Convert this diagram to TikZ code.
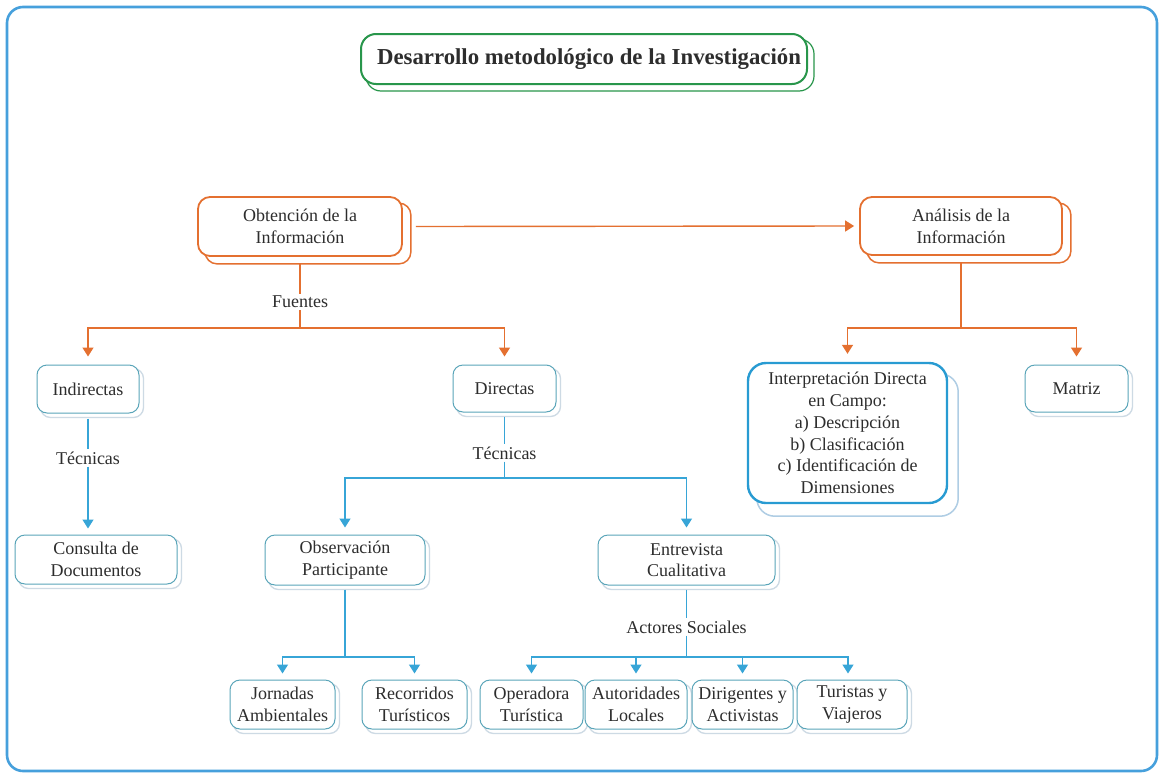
\documentclass[tikz,border=0pt]{standalone}
\usepackage{fontspec}
\setmainfont{Liberation Serif}
\usetikzlibrary{arrows.meta,backgrounds}
\definecolor{orng}{RGB}{228,112,48}
\definecolor{grn}{RGB}{40,150,75}
\definecolor{lblue}{RGB}{55,165,215}
\definecolor{bxb}{RGB}{90,165,185}
\definecolor{frm}{RGB}{70,160,220}
\definecolor{intb}{RGB}{40,155,210}
\definecolor{shd}{RGB}{205,218,228}
\definecolor{ishd}{RGB}{175,205,228}
\definecolor{txtc}{RGB}{45,45,45}
\newcommand{\mkshadow}[4]{%
  \draw[#4] ([shift={(#2,#3)}]#1.north west) rectangle ([shift={(#2,#3)}]#1.south east);}
\begin{document}
\begin{tikzpicture}[x=1pt,y=-1pt,
  txt/.style={font=\fontsize{18}{21.7}\selectfont, text=txtc, align=center},
  base/.style={txt, fill=white, inner sep=0pt},
  obox/.style={base, draw=orng, line width=1.8pt, rounded corners=12pt},
  oshad/.style={draw=orng, line width=1.5pt, rounded corners=12pt, fill=white},
  bbox/.style={base, draw=bxb, line width=1pt, rounded corners=10pt},
  bshad/.style={draw=shd, line width=1.3pt, rounded corners=10pt, fill=white},
  ibox/.style={base, draw=intb, line width=2.4pt, rounded corners=18pt},
  ishad/.style={draw=ishd, line width=1.5pt, rounded corners=18pt, fill=white},
  tbox/.style={base, draw=grn, line width=2pt, rounded corners=15pt,
    font=\fontsize{22.8}{27}\selectfont\bfseries},
  tshad/.style={draw=grn, line width=1.2pt, rounded corners=15pt, fill=white},
  lbl/.style={txt, inner sep=2pt},
  oline/.style={draw=orng, line width=1.4pt},
  oarr/.style={oline, -{Triangle[width=11pt,length=9pt]}},
  bline/.style={draw=lblue, line width=1.4pt},
  barr/.style={bline, -{Triangle[width=11pt,length=9pt]}},
  frame/.style={draw=frm, line width=2.6pt, rounded corners=16pt, fill=white}
]
\useasboundingbox (0,0) rectangle (1159,774);

% title
\node[tbox, minimum width=446pt, minimum height=50pt] (title) at (584,59) {\hspace*{10pt}Desarrollo metodológico de la Investigación};

% top level
\node[obox, minimum width=204pt, minimum height=59pt] (obt) at (300,226.5) {Obtención de la\\Información};
\node[obox, minimum width=202pt, minimum height=58pt] (ana) at (961,226) {Análisis de la\\Información};

% second level
\node[bbox, minimum width=102pt, minimum height=48pt] (ind) at (88,389) {Indirectas};
\node[bbox, minimum width=103pt, minimum height=47pt] (dir) at (504.5,388.5) {Directas};
\node[ibox, minimum width=199pt, minimum height=140pt] (int) at (847.5,433) {Interpretación Directa\\en Campo:\\a) Descripción\\b) Clasificación\\c) Identificación de\\Dimensiones};
\node[bbox, minimum width=103pt, minimum height=47pt] (mat) at (1076.5,388.5) {Matriz};

% third level
\node[bbox, minimum width=162pt, minimum height=49pt] (con) at (96,559.5) {Consulta de\\Documentos};
\node[bbox, minimum width=160pt, minimum height=50pt] (obs) at (345,560) {Observación\\Participante};
\node[bbox, minimum width=177pt, minimum height=50pt] (ent) at (686.5,560) {Entrevista\\Cualitativa};

% fourth level
\node[bbox, minimum width=105pt, minimum height=49pt] (jor) at (282.5,704.5) {Jornadas\\Ambientales};
\node[bbox, minimum width=105pt, minimum height=49pt] (rec) at (414.5,704.5) {Recorridos\\Turísticos};
\node[bbox, minimum width=103pt, minimum height=49pt] (ope) at (531.5,704.5) {Operadora\\Turística};
\node[bbox, minimum width=102pt, minimum height=49pt] (aut) at (636,704.5) {Autoridades\\Locales};
\node[bbox, minimum width=101pt, minimum height=49pt] (dri) at (742.5,704.5) {Dirigentes y\\Activistas};
\node[bbox, minimum width=110pt, minimum height=49pt] (tur) at (852,704.5) {Turistas y\\Viajeros};

% labels
\node[lbl] (fue) at (300,302) {Fuentes};
\node[lbl] (tec1) at (88,458) {Técnicas};
\node[lbl] (tec2) at (504.5,453) {Técnicas};
\node[lbl] (act) at (686.5,627) {Actores Sociales};

% junctions
\coordinate (j1) at (300,328);
\coordinate (j2) at (961,328);
\coordinate (j3) at (504.5,478);
\coordinate (j4) at (345,657);
\coordinate (j5) at (686.5,657);

% orange connectors
\draw[oarr] ([xshift=13pt]obt.east) -- ([xshift=-5pt]ana.west);
\draw[oline] ([yshift=-7pt]obt.south) -- (fue.north);
\draw[oline] (fue.south) -- (j1);
\draw[oarr] (j1) -| ([yshift=8pt]ind.north);
\draw[oarr] (j1) -| ([yshift=8pt]dir.north);
\draw[oline] ([yshift=-7pt]ana.south) -- (j2);
\draw[oarr] (j2) -| ([yshift=8pt]int.north);
\draw[oarr] (j2) -| ([yshift=8pt]mat.north);

% blue connectors
\draw[bline] ([yshift=-5pt]ind.south) -- (tec1.north);
\draw[barr] (tec1.south) -- ([yshift=6pt]tec1 |- con.north);
\draw[bline] ([yshift=-4pt]dir.south) -- (tec2.north);
\draw[bline] (tec2.south) -- (j3);
\draw[barr] (j3) -| ([yshift=7pt]obs.north);
\draw[barr] (j3) -| ([yshift=7pt]ent.north);
\draw[bline] ([yshift=-4pt]obs.south) -- (j4);
\draw[barr] (j4) -| ([yshift=6pt]jor.north);
\draw[barr] (j4) -| ([yshift=6pt]rec.north);
\draw[bline] ([yshift=-4pt]ent.south) -- (act.north);
\draw[bline] (act.south) -- (j5);
\draw[barr] (j5) -| ([yshift=6pt]ope.north);
\draw[barr] (j5) -| ([yshift=6pt]aut.north);
\draw[barr] (j5) -| ([yshift=6pt]dri.north);
\draw[barr] (j5) -| ([xshift=-4pt,yshift=6pt]tur.north);

% background: frame and shadows
\begin{pgfonlayer}{background}
\draw[frame] (7,7) rectangle (1157,771);
\mkshadow{title}{6}{6}{tshad}
\mkshadow{obt}{8}{7}{oshad}
\mkshadow{ana}{8}{7}{oshad}
\mkshadow{int}{10}{12}{ishad}
\foreach \n in {ind,dir,mat,con,obs,ent,jor,rec,ope,aut,dri,tur}{
  \mkshadow{\n}{4}{4}{bshad}
}
\end{pgfonlayer}
\end{tikzpicture}
\end{document}
